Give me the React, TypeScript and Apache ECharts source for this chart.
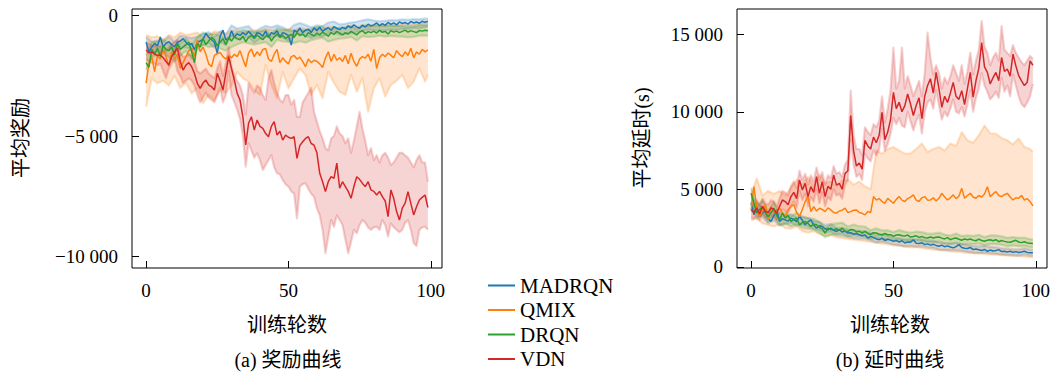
import React, { useEffect, useRef } from 'react';
import * as echarts from 'echarts';

const ALGOS = ['MADRQN', 'QMIX', 'DRQN', 'VDN'];
const COLORS = ['#1f77b4', '#ff7f0e', '#2ca02c', '#d62728'];
const X_TICKS = [0, 50, 100];
const REWARD_TICKS = [-10000, -5000, 0];
const DELAY_TICKS = [0, 5000, 10000, 15000];

// epochs 0..99 for mean lines; band samples every 2 epochs (+ last)
const EPOCHS = Array.from({ length: 100 }, (_, i) => i);
const BAND_X = Array.from({ length: 50 }, (_, k) => 2 * k).concat([99]);

// ---------- (a) reward ----------
const MADRQN_REWARD = [
  -1100, -1500, -1300, -1150, -1250, -880, -1300, -1150, -1080, -1200,
  -1290, -1100, -1050, -950, -1100, -1220, -1150, -1420, -1100, -1050,
  -980, -730, -900, -1000, -1100, -1560, -850, -600, -1000, -980,
  -620, -900, -750, -820, -700, -800, -650, -780, -900, -700,
  -750, -850, -640, -900, -700, -760, -620, -880, -700, -750,
  -820, -1220, -600, -680, -520, -700, -600, -560, -700, -500,
  -620, -480, -650, -560, -500, -600, -450, -520, -580, -480,
  -550, -420, -500, -380, -460, -520, -400, -470, -350, -420,
  -380, -300, -420, -330, -400, -280, -360, -300, -380, -260,
  -320, -280, -350, -240, -300, -260, -310, -230, -270, -230,
];
const MADRQN_REWARD_LO = [
  -1350, -1550, -1480, -1530, -1320, -1500, -1300, -1330, -1380, -1330,
  -1220, -1130, -1330, -1080, -1220, -860, -980, -930, -880, -1120,
  -970, -870, -920, -850, -920, -1040, -830, -750, -820, -920,
  -840, -870, -720, -680, -800, -770, -720, -690, -620, -580,
  -600, -640, -620, -580, -600, -540, -560, -510, -520, -480,
  -440,
];
const MADRQN_REWARD_HI = [
  -880, -1080, -1030, -1080, -860, -1080, -830, -880, -930, -880,
  -760, -680, -880, -630, -780, -400, -530, -480, -430, -680,
  -530, -420, -480, -400, -480, -600, -380, -300, -380, -480,
  -400, -430, -280, -240, -360, -330, -280, -250, -190, -150,
  -200, -230, -210, -180, -190, -150, -170, -140, -150, -120,
  -110,
];

const QMIX_REWARD = [
  -2800, -1980, -1700, -2320, -1650, -1800, -1400, -1700, -2100, -1500,
  -1800, -1600, -2190, -1950, -1700, -1450, -1350, -1700, -1010, -1500,
  -1300, -1600, -2000, -2120, -1650, -1580, -1520, -1700, -1800, -1650,
  -1750, -1600, -1700, -1450, -1800, -2120, -1550, -1380, -1700, -1500,
  -1650, -1400, -1360, -1800, -1900, -1600, -1400, -1950, -1750, -1900,
  -2000, -1700, -1650, -1800, -1720, -1900, -2120, -1800, -1950, -1850,
  -1900, -2000, -2150, -1750, -1500, -1900, -1600, -1850, -1750, -1900,
  -1650, -2000, -1560, -1900, -2100, -1800, -1700, -1760, -1600, -1900,
  -1400, -2200, -1750, -1600, -1700, -1550, -1650, -1750, -1450, -1600,
  -1700, -1500, -1650, -1350, -1750, -1500, -1600, -1400, -1500, -1420,
];
const QMIX_REWARD_LO = [
  -3780, -2600, -2810, -2700, -2900, -2500, -3000, -2800, -3226, -3000,
  -3640, -3300, -3500, -3100, -3200, -2900, -2330, -2600, -2740, -3100,
  -3290, -2050, -2880, -3430, -2330, -3020, -2600, -2190, -2460, -3290,
  -2880, -3430, -2330, -2800, -3160, -3290, -2460, -3160, -2600, -3990,
  -3020, -2600, -3360, -2880, -2700, -2460, -3000, -2740, -2190, -2740,
  -2460,
];
const QMIX_REWARD_HI = [
  -800, -900, -850, -1000, -800, -900, -700, -800, -750, -700,
  -900, -800, -650, -700, -750, -650, -600, -700, -650, -600,
  -650, -550, -600, -650, -600, -550, -600, -500, -550, -600,
  -500, -550, -450, -500, -550, -500, -450, -500, -400, -450,
  -400, -450, -380, -400, -420, -350, -380, -350, -320, -300,
  -300,
];

const DRQN_REWARD = [
  -1950, -2150, -1400, -1600, -1350, -1700, -1250, -1400, -1450, -1300,
  -1630, -1150, -1400, -1300, -1200, -1100, -1500, -1950, -1150, -1300,
  -950, -1200, -1050, -900, -1000, -1250, -1100, -950, -1200, -900,
  -1050, -880, -950, -1000, -850, -1080, -900, -820, -950, -800,
  -900, -1000, -850, -800, -1050, -880, -760, -900, -820, -950,
  -850, -780, -900, -700, -820, -760, -880, -700, -780, -840,
  -720, -800, -680, -760, -850, -700, -780, -650, -720, -800,
  -700, -760, -650, -720, -800, -680, -620, -740, -660, -700,
  -640, -720, -600, -690, -650, -760, -620, -680, -640, -700,
  -650, -600, -680, -620, -660, -700, -610, -640, -600, -620,
];
const DRQN_REWARD_LO = [
  -2250, -1700, -1620, -1520, -1720, -1900, -1670, -1460, -1780, -1420,
  -1210, -1310, -1260, -1360, -1460, -1300, -1200, -1100, -1150, -1200,
  -1150, -1100, -1300, -1010, -1070, -1090, -1140, -1060, -1120, -1020,
  -960, -920, -1080, -1010, -950, -930, -880, -1030, -850, -890,
  -870, -830, -870, -840, -860, -870, -900, -880, -830, -820,
  -840,
];
const DRQN_REWARD_HI = [
  -1650, -1100, -1080, -980, -1180, -1360, -1130, -940, -1220, -880,
  -690, -790, -740, -840, -940, -800, -700, -600, -650, -700,
  -650, -600, -800, -510, -570, -610, -660, -580, -640, -540,
  -480, -440, -620, -550, -490, -470, -420, -570, -390, -430,
  -410, -370, -430, -400, -420, -430, -460, -440, -390, -380,
  -400,
];

const VDN_REWARD = [
  -1425, -1550, -1500, -1600, -1650, -1633, -1750, -1900, -2050, -1700,
  -1500, -1355, -1900, -2257, -2050, -1950, -2118, -2400, -2810, -3018,
  -2800, -2672, -2880, -2950, -3088, -2395, -2700, -3088, -2400, -1703,
  -2200, -2672, -3226, -3504, -4200, -5374, -4470, -4200, -4750, -4335,
  -4600, -4680, -4900, -5030, -4600, -4400, -4960, -4800, -5170, -4960,
  -5050, -5100, -5030, -5930, -5400, -5240, -5100, -5030, -5310, -5380,
  -5700, -6550, -6900, -7310, -6900, -6690, -6760, -6130, -7170, -6900,
  -7100, -7300, -7590, -7100, -6690, -6800, -6970, -7100, -6900, -7240,
  -7300, -7450, -7300, -7520, -7700, -8350, -7240, -7600, -8140, -8490,
  -8000, -7790, -7310, -7800, -8280, -7940, -7660, -7550, -7450, -7970,
];
const VDN_REWARD_LO = [
  -1800, -1900, -1950, -2000, -2050, -2000, -2300, -2600, -2200, -2000,
  -1800, -2300, -2500, -2800, -2700, -2600, -2700, -2900, -3300, -3600,
  -3400, -3200, -3400, -3500, -3600, -3300, -3000, -3600, -3300, -2300,
  -3300, -3600, -3900, -4300, -5000, -6270, -5300, -5600, -5900, -5720,
  -6000, -6410, -6200, -6000, -5800, -6300, -6550, -6600, -6830, -7000,
  -7100, -7300, -7400, -8420, -7100, -7000, -6960, -7200, -7400, -7520,
  -8000, -8300, -8900, -9870, -9200, -8490, -8770, -8300, -8490, -8700,
  -9300, -9870, -9400, -8900, -9040, -8700, -8490, -8600, -8800, -8900,
  -8800, -8770, -8900, -8490, -8700, -9180, -8630, -8800, -8900, -9000,
  -8900, -8600, -8490, -8900, -9450, -9570, -8900, -8800, -8770, -8900,
];
const VDN_REWARD_HI = [
  -1100, -1150, -1250, -1250, -1300, -1250, -1400, -1500, -1350, -1150,
  -1100, -1000, -1550, -1700, -1700, -1600, -1650, -1900, -2300, -2400,
  -2300, -2200, -2400, -2500, -2600, -2200, -1900, -2500, -2000, -1300,
  -2100, -2500, -2700, -2900, -3300, -4100, -2800, -3000, -3200, -2900,
  -3000, -3300, -3500, -2600, -2260, -2800, -3200, -3500, -3600, -3300,
  -3300, -3700, -3500, -4200, -4200, -3600, -3400, -3200, -3000, -4000,
  -4400, -4800, -5100, -5500, -5600, -5100, -5000, -4600, -4900, -5000,
  -5300, -5100, -5700, -5200, -4600, -4000, -4700, -5200, -5800, -5500,
  -6000, -5800, -6100, -5800, -5700, -5900, -6200, -6100, -5900, -5700,
  -5700, -5800, -5900, -6100, -6300, -6000, -5800, -6100, -6100, -6900,
];

// ---------- (b) delay ----------
const MADRQN_DELAY = [
  4100, 3350, 3880, 3240, 3500, 3560, 3100, 2920, 3300, 3670,
  2920, 3100, 3030, 2950, 3140, 3050, 2920, 3240, 3000, 2710,
  2900, 3030, 2700, 2500, 2650, 2600, 2450, 2390, 2500, 2350,
  2280, 2400, 2250, 2300, 2180, 2200, 2100, 2150, 2070, 2000,
  2050, 1860, 1950, 1900, 1800, 1750, 1850, 1700, 1780, 1720,
  1650, 1700, 1600, 1680, 1540, 1600, 1580, 1750, 1520, 1500,
  1550, 1430, 1480, 1400, 1450, 1380, 1330, 1400, 1300, 1350,
  1280, 1220, 1300, 1430, 1250, 1200, 1180, 1250, 1110, 1150,
  1100, 1050, 1120, 1000, 1080, 1020, 1050, 1110, 980, 1000,
  960, 1000, 940, 980, 920, 950, 1000, 930, 910, 900,
];
const MADRQN_DELAY_LO = [
  3800, 3500, 3200, 2800, 3000, 2650, 2750, 2850, 2650, 2700,
  2600, 2450, 2380, 2200, 2250, 2030, 2000, 1930, 1850, 1820,
  1800, 1700, 1560, 1600, 1540, 1420, 1370, 1310, 1350, 1290,
  1320, 1250, 1220, 1100, 1080, 1060, 1070, 1030, 960, 900,
  890, 900, 870, 840, 780, 760, 740, 720, 790, 710,
  700,
];
const MADRQN_DELAY_HI = [
  4500, 4200, 3800, 3400, 3600, 3200, 3300, 3400, 3200, 3250,
  3150, 2950, 2900, 2700, 2750, 2520, 2500, 2420, 2350, 2320,
  2300, 2200, 2040, 2100, 2020, 1880, 1830, 1760, 1800, 1750,
  1780, 1700, 1680, 1560, 1520, 1500, 1520, 1470, 1400, 1330,
  1320, 1340, 1290, 1260, 1190, 1170, 1140, 1120, 1200, 1110,
  1100,
];

const QMIX_DELAY = [
  3670, 5170, 3780, 3240, 3600, 4000, 3030, 3880, 3460, 3600,
  3780, 3500, 3240, 3670, 3900, 4000, 3500, 3240, 3700, 4210,
  4530, 3560, 3880, 3600, 3780, 3700, 3560, 3800, 3670, 3500,
  3460, 3600, 3650, 3780, 3500, 3560, 3650, 3670, 3500, 3450,
  3350, 3560, 3500, 4530, 4310, 4400, 4210, 4100, 4420, 4250,
  4100, 4350, 4530, 4300, 4210, 4400, 4500, 4640, 4300, 4210,
  4450, 4530, 4300, 4310, 4450, 4250, 4420, 4740, 4500, 4310,
  4450, 4640, 4400, 4550, 5060, 4420, 4600, 4740, 4500, 4420,
  4600, 4500, 4700, 5170, 4530, 4700, 4850, 4600, 4530, 4650,
  4740, 4500, 4310, 4450, 4420, 4600, 4310, 4400, 4200, 3930,
];
const QMIX_DELAY_LO = [
  3000, 3100, 2800, 2700, 2600, 2750, 2500, 2450, 2600, 2300,
  2200, 2300, 2100, 2000, 2050, 1900, 1850, 1800, 1750, 1700,
  1650, 1600, 1550, 1500, 1450, 1400, 1380, 1300, 1250, 1280,
  1200, 1150, 1100, 1080, 1050, 1000, 980, 950, 900, 880,
  850, 820, 800, 780, 750, 720, 700, 680, 650, 620,
  600,
];
const QMIX_DELAY_HI = [
  4700, 5700, 4600, 4900, 4700, 4900, 4600, 5100, 5620, 5300,
  5800, 5200, 5960, 5400, 5500, 5200, 5600, 5620, 5300, 5500,
  5190, 5000, 7520, 7300, 7600, 7730, 7500, 7300, 7310, 7600,
  7950, 7410, 7600, 7730, 7500, 7950, 7800, 8690, 8160, 8000,
  8480, 9120, 8600, 8590, 8300, 8160, 7900, 8270, 7730, 7600,
  7410,
];

const DRQN_DELAY = [
  4740, 4100, 3460, 3700, 3880, 3500, 3240, 3500, 3780, 3300,
  3030, 3460, 3140, 3300, 2920, 3050, 3140, 2710, 2850, 2920,
  2800, 2600, 2750, 2710, 2550, 2450, 2180, 2500, 2400, 2390,
  2450, 2350, 2500, 2300, 2280, 2400, 2390, 2250, 2300, 2180,
  2280, 2150, 2070, 2200, 2180, 2100, 2050, 2150, 2070, 2070,
  1960, 2050, 2070, 2000, 1980, 2050, 1920, 1950, 2000, 1900,
  1950, 1880, 1860, 1920, 1860, 1900, 1920, 1850, 1800, 1880,
  1750, 1820, 1860, 1780, 1710, 1800, 1750, 1790, 1720, 1680,
  1790, 1700, 1650, 1720, 1750, 1680, 1750, 1620, 1700, 1640,
  1600, 1580, 1650, 1710, 1600, 1560, 1620, 1540, 1520, 1500,
];
const DRQN_DELAY_LO = [
  4200, 3100, 3450, 2900, 3350, 2700, 2800, 2600, 2750, 2500,
  2450, 2400, 2200, 1900, 2050, 2100, 2150, 1950, 2050, 1980,
  1950, 1780, 1870, 1750, 1780, 1680, 1770, 1700, 1640, 1720,
  1660, 1580, 1580, 1630, 1520, 1480, 1570, 1440, 1470, 1450,
  1500, 1380, 1460, 1460, 1420, 1330, 1380, 1330, 1350, 1260,
  1250,
];
const DRQN_DELAY_HI = [
  5100, 3900, 4300, 3600, 4200, 3400, 3500, 3250, 3500, 3200,
  3150, 3100, 2900, 2500, 2750, 2800, 2850, 2600, 2730, 2620,
  2600, 2370, 2480, 2350, 2360, 2240, 2370, 2270, 2200, 2280,
  2240, 2140, 2140, 2210, 2080, 2020, 2150, 1980, 2030, 1990,
  2070, 1920, 2030, 2030, 1970, 1870, 1920, 1870, 1890, 1780,
  1760,
];

const VDN_DELAY = [
  3670, 3500, 3800, 3400, 3900, 3600, 3500, 3800, 3700, 3450,
  3900, 4310, 4210, 4000, 4530, 4800, 4400, 5600, 4960, 5380,
  4530, 5170, 4800, 5810, 4740, 5490, 4530, 5200, 5000, 5920,
  5270, 5380, 5000, 6010, 6200, 9760, 7500, 6500, 6700, 6300,
  8160, 7800, 7600, 8370, 8000, 8500, 9970, 8200, 8690, 9500,
  11250, 10200, 10610, 10000, 10400, 11150, 10500, 9760, 10400, 10900,
  9550, 11000, 11700, 12130, 11200, 12540, 11500, 10290, 11000, 10600,
  11200, 11900, 11000, 10800, 11360, 10470, 11500, 12540, 10940, 12000,
  12800, 14460, 12900, 12540, 11790, 12200, 12540, 12000, 13500, 12600,
  12760, 12300, 13720, 12970, 12330, 12000, 11690, 11900, 13290, 13000,
];
const VDN_DELAY_LO = [
  3200, 3100, 3300, 3000, 3400, 3200, 3100, 3300, 3200, 3000,
  3400, 3700, 3600, 3500, 3900, 4200, 3800, 4900, 4300, 4700,
  3900, 4500, 4200, 5000, 4100, 4800, 3900, 4500, 4300, 5000,
  4600, 4700, 4400, 5300, 5600, 8200, 6600, 5800, 6000, 5600,
  7300, 7000, 6800, 7500, 7200, 7600, 8900, 7500, 7900, 8600,
  9600, 9200, 9600, 9100, 9000, 10000, 9400, 8800, 9400, 9800,
  8600, 10000, 10600, 10800, 10200, 11400, 10400, 9500, 10000, 9700,
  10200, 10800, 10000, 9900, 10300, 9700, 10500, 11400, 10000, 10900,
  11500, 12500, 11700, 11300, 10800, 11000, 11300, 10900, 12200, 11300,
  11700, 11000, 12400, 11700, 11000, 10500, 10300, 10600, 11000, 11800,
];
const VDN_DELAY_HI = [
  4100, 3900, 4300, 3900, 4400, 4100, 4000, 4300, 4200, 3900,
  4400, 4900, 4800, 4600, 5200, 5500, 5100, 6200, 5600, 6000,
  5300, 5900, 5500, 6400, 5600, 6100, 5300, 5900, 5700, 6500,
  6000, 6100, 5800, 6600, 6900, 11360, 8500, 7600, 7600, 7200,
  9000, 8700, 8500, 9200, 9000, 9400, 11000, 9300, 10200, 11400,
  14140, 11500, 12000, 14140, 11500, 12300, 11700, 11000, 11500, 12000,
  11000, 12500, 15100, 13500, 12400, 13000, 12500, 11500, 12200, 11800,
  12300, 13000, 12500, 12000, 13000, 11800, 12600, 13800, 12400, 13300,
  14000, 15850, 14200, 13800, 13000, 13500, 13800, 13300, 15530, 14000,
  13800, 13600, 14300, 13800, 13500, 13200, 13000, 13300, 13600, 13400,
];

const REWARD = [
  { mean: MADRQN_REWARD, lo: MADRQN_REWARD_LO, hi: MADRQN_REWARD_HI },
  { mean: QMIX_REWARD, lo: QMIX_REWARD_LO, hi: QMIX_REWARD_HI },
  { mean: DRQN_REWARD, lo: DRQN_REWARD_LO, hi: DRQN_REWARD_HI },
  { mean: VDN_REWARD, lo: VDN_REWARD_LO, hi: VDN_REWARD_HI },
];
const DELAY = [
  { mean: MADRQN_DELAY, lo: MADRQN_DELAY_LO, hi: MADRQN_DELAY_HI },
  { mean: QMIX_DELAY, lo: QMIX_DELAY_LO, hi: QMIX_DELAY_HI },
  { mean: DRQN_DELAY, lo: DRQN_DELAY_LO, hi: DRQN_DELAY_HI },
  { mean: VDN_DELAY, lo: VDN_DELAY_LO, hi: VDN_DELAY_HI },
];

const SERIF = '"Liberation Serif", "DejaVu Serif", serif';
const CJK = '"Liberation Serif", "Noto Sans CJK SC", sans-serif';

function rgba(hex: string, a: number) {
  const n = parseInt(hex.slice(1), 16);
  return `rgba(${(n >> 16) & 255},${(n >> 8) & 255},${n & 255},${a})`;
}

function fmt(v: number) {
  const s = Math.abs(v).toString().replace(/\B(?=(\d{3})+(?!\d))/g, ' ');
  return (v < 0 ? '\u2212' : '') + s;
}

function bandSeries(gi: number, lo: number[], hi: number[], color: string) {
  const xs = lo.length === 100 ? EPOCHS : BAND_X;
  return {
    type: 'custom',
    xAxisIndex: gi,
    yAxisIndex: gi,
    silent: true,
    z: 1,
    data: xs.map((x, k) => [x, lo[k], hi[k]]),
    encode: { x: 0, y: [1, 2] },
    renderItem: (params: any, api: any) => {
      if (params.dataIndex !== 0) return null;
      const up = xs.map((x, k) => api.coord([x, hi[k]]));
      const dn = xs.map((x, k) => api.coord([x, lo[k]]));
      const edge = { stroke: rgba(color, 0.22), lineWidth: 2.2, fill: null, lineJoin: 'round' };
      return {
        type: 'group',
        children: [
          { type: 'polygon', shape: { points: up.concat(dn.slice().reverse()) }, style: { fill: rgba(color, 0.2) } },
          { type: 'polyline', shape: { points: up }, style: edge },
          { type: 'polyline', shape: { points: dn }, style: edge },
        ],
      };
    },
  };
}

function lineSeries(gi: number, name: string, vals: number[], color: string) {
  return {
    type: 'line',
    name,
    xAxisIndex: gi,
    yAxisIndex: gi,
    data: vals.map((v, i) => [EPOCHS[i], v]),
    showSymbol: false,
    symbol: 'none',
    z: 3,
    lineStyle: { width: 1.5, color },
    itemStyle: { color },
  };
}

function xAxis(gi: number) {
  return {
    type: 'value',
    gridIndex: gi,
    position: 'bottom',
    min: -4.95,
    max: 103.95,
    axisLine: { show: false, onZero: false },
    splitLine: { show: false },
    axisTick: { show: true, inside: true, length: 7, lineStyle: { color: '#000', width: 1 }, customValues: X_TICKS },
    axisLabel: { customValues: X_TICKS, margin: 13, fontFamily: SERIF, fontSize: 19, color: '#000', formatter: fmt },
  };
}

function yAxis(gi: number, min: number, max: number, ticks: number[]) {
  return {
    type: 'value',
    gridIndex: gi,
    position: 'left',
    min,
    max,
    axisLine: { show: false, onZero: false },
    splitLine: { show: false },
    axisTick: { show: true, inside: true, length: 7, lineStyle: { color: '#000', width: 1 }, customValues: ticks },
    axisLabel: { customValues: ticks, margin: 14, fontFamily: SERIF, fontSize: 19, color: '#000', formatter: fmt },
  };
}

function label(text: string, x: number, y: number, rot = 0) {
  return {
    type: 'text',
    x,
    y,
    rotation: rot,
    silent: true,
    style: {
      text,
      font: `20px ${CJK}`,
      fill: '#000',
      align: 'center',
      verticalAlign: 'middle',
      textAlign: 'center',
      textVerticalAlign: 'middle',
    },
  };
}

function buildOption() {
  const series: any[] = [];
  [REWARD, DELAY].forEach((set, gi) => {
    set.forEach((d, k) => series.push(bandSeries(gi, d.lo, d.hi, COLORS[k])));
  });
  [REWARD, DELAY].forEach((set, gi) => {
    set.forEach((d, k) => series.push(lineSeries(gi, ALGOS[k], d.mean, COLORS[k])));
  });
  const gridBase = { top: 9, width: 310, height: 259, show: true, borderColor: '#000', borderWidth: 1, backgroundColor: 'transparent' };
  return {
    animation: false,
    backgroundColor: '#fff',
    grid: [
      { ...gridBase, left: 132 },
      { ...gridBase, left: 737 },
    ],
    xAxis: [xAxis(0), xAxis(1)],
    yAxis: [yAxis(0, -10486, 280, REWARD_TICKS), yAxis(1, -77, 16630, DELAY_TICKS)],
    legend: {
      orient: 'vertical',
      left: 488,
      top: 275,
      padding: 0,
      itemWidth: 27,
      itemHeight: 2,
      itemGap: 3.5,
      icon: 'rect',
      selectedMode: false,
      data: ALGOS,
      textStyle: { fontFamily: SERIF, fontSize: 21, color: '#000', lineHeight: 20 },
    },
    graphic: [
      label('平均奖励', 21, 138, Math.PI / 2),
      label('平均延时(s)', 642, 138, Math.PI / 2),
      label('训练轮数', 287, 325),
      label('训练轮数', 890, 325),
      label('(a) 奖励曲线', 288, 360),
      label('(b) 延时曲线', 890, 360),
    ],
    series,
  };
}

export default function App() {
  const ref = useRef<HTMLDivElement>(null);
  useEffect(() => {
    if (!ref.current) return;
    const chart = echarts.init(ref.current, null, { renderer: 'svg' });
    chart.setOption(buildOption() as any);
    return () => chart.dispose();
  }, []);
  return (
    <div
      ref={ref}
      style={{ position: 'absolute', left: 0, top: 0, width: 1053, height: 374, background: '#fff' }}
    />
  );
}
